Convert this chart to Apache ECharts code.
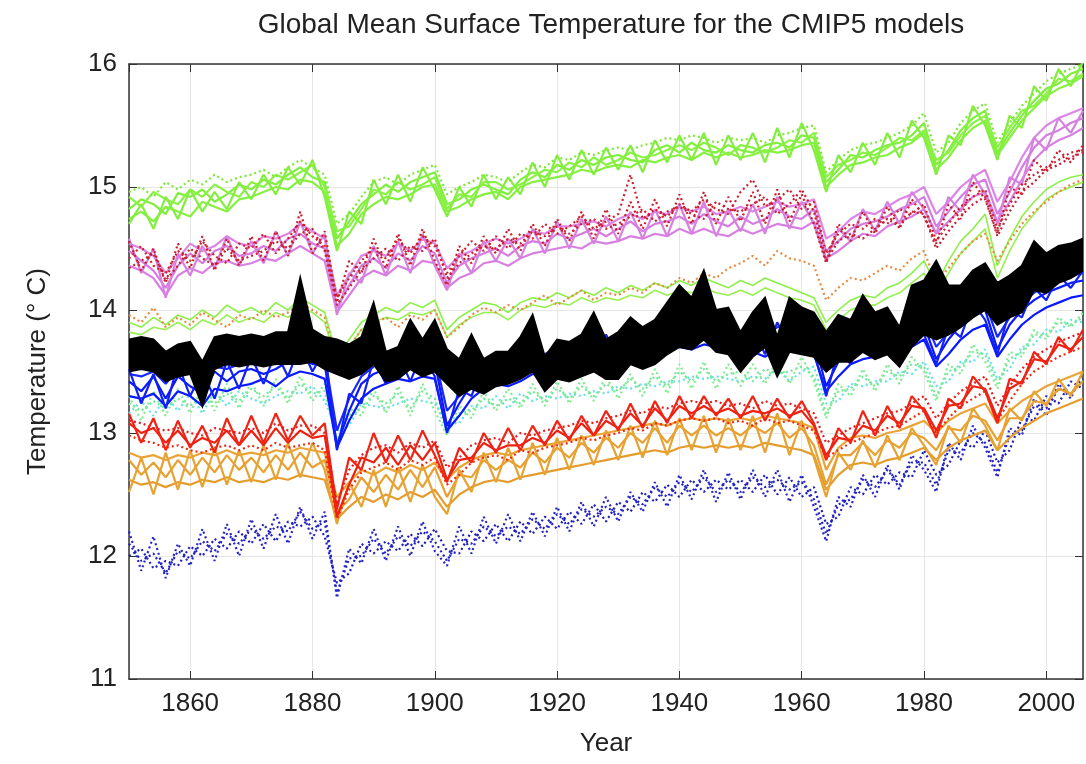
<!DOCTYPE html>
<html>
<head>
<meta charset="utf-8">
<title>CMIP5 global mean surface temperature</title>
<script src="https://cdn.jsdelivr.net/npm/echarts@6.0.0/dist/echarts.min.js"></script>
<style>
html,body{margin:0;padding:0;background:#fff;}
#chart{width:1086px;height:764px;}
</style>
</head>
<body>
<div id="chart"></div>
<script>
// years, every second year
var years = [
    1850,1852,1854,1856,1858,1860,1862,1864,1866,1868,
    1870,1872,1874,1876,1878,1880,1882,1884,1886,1888,
    1890,1892,1894,1896,1898,1900,1902,1904,1906,1908,
    1910,1912,1914,1916,1918,1920,1922,1924,1926,1928,
    1930,1932,1934,1936,1938,1940,1942,1944,1946,1948,
    1950,1952,1954,1956,1958,1960,1962,1964,1966,1968,
    1970,1972,1974,1976,1978,1980,1982,1984,1986,1988,
    1990,1992,1994,1996,1998,2000,2002,2004,2006
];
var yTicks = [11,12,13,14,15,16];

// warm light-green model (top)
var greenTop1 = [
    14.82,14.90,14.86,14.78,14.95,14.92,14.98,14.88,14.94,15.02,
    14.98,15.06,15.02,15.10,15.16,15.08,15.04,14.58,14.72,14.86,
    14.94,15.02,14.96,15.04,15.08,15.12,14.86,14.90,14.98,15.02,
    14.98,14.94,15.06,15.12,15.08,15.18,15.14,15.22,15.18,15.24,
    15.26,15.22,15.20,15.30,15.34,15.28,15.36,15.30,15.28,15.34,
    15.30,15.28,15.34,15.36,15.32,15.42,15.40,15.04,15.14,15.26,
    15.24,15.30,15.34,15.36,15.42,15.52,15.18,15.30,15.46,15.56,
    15.62,15.28,15.44,15.58,15.70,15.80,15.84,15.92,15.96
];
var greenTop2 = [
    14.92,14.84,14.96,14.90,14.86,14.98,14.92,15.02,14.96,14.92,
    15.04,15.00,15.10,15.06,15.12,15.18,15.00,14.64,14.68,14.82,
    14.98,14.94,15.04,14.98,15.02,15.08,14.82,14.94,14.92,15.04,
    15.04,14.98,15.02,15.08,15.14,15.12,15.20,15.16,15.24,15.18,
    15.22,15.28,15.24,15.26,15.30,15.34,15.30,15.36,15.32,15.26,
    15.34,15.32,15.28,15.32,15.38,15.36,15.44,15.08,15.18,15.22,
    15.28,15.26,15.32,15.40,15.38,15.46,15.22,15.28,15.42,15.52,
    15.58,15.32,15.48,15.62,15.66,15.76,15.88,15.86,15.92
];
var greenTop3 = [
    14.74,14.80,14.72,14.84,14.80,14.76,14.88,14.84,14.80,14.90,
    14.92,14.96,15.00,14.98,15.06,15.04,14.96,14.52,14.62,14.78,
    14.86,14.92,14.90,14.94,15.00,15.02,14.80,14.84,14.90,14.94,
    14.96,14.90,15.00,15.04,15.06,15.08,15.10,15.14,15.12,15.16,
    15.18,15.16,15.22,15.20,15.24,15.26,15.22,15.28,15.24,15.28,
    15.24,15.26,15.30,15.28,15.30,15.34,15.36,15.00,15.10,15.18,
    15.20,15.24,15.26,15.32,15.36,15.44,15.14,15.24,15.38,15.48,
    15.54,15.26,15.40,15.54,15.64,15.74,15.80,15.84,15.90
];
var greenTop4 = [
    14.96,15.00,14.92,15.04,14.98,15.06,15.02,15.10,15.04,15.08,
    15.10,15.14,15.08,15.16,15.22,15.16,15.10,14.70,14.78,14.92,
    15.04,15.08,15.02,15.10,15.14,15.18,14.94,15.00,15.04,15.10,
    15.08,15.04,15.12,15.18,15.16,15.24,15.22,15.28,15.26,15.30,
    15.32,15.30,15.34,15.36,15.40,15.38,15.42,15.40,15.36,15.40,
    15.38,15.40,15.36,15.42,15.44,15.48,15.50,15.12,15.22,15.30,
    15.34,15.36,15.40,15.44,15.50,15.60,15.28,15.36,15.52,15.62,
    15.68,15.36,15.52,15.66,15.76,15.86,15.92,15.96,16.00
];
var greenTop5 = [
    14.70,14.86,14.66,14.92,14.74,14.98,14.80,14.96,14.82,15.04,
    14.90,15.10,14.94,15.16,15.02,15.22,14.92,14.48,14.80,14.70,
    15.06,14.86,15.10,14.88,15.16,14.98,14.76,15.00,14.84,15.10,
    14.90,15.08,14.94,15.20,15.00,15.26,15.06,15.30,15.10,15.32,
    15.14,15.34,15.12,15.38,15.20,15.42,15.22,15.44,15.18,15.42,
    15.22,15.44,15.20,15.48,15.24,15.52,15.30,14.96,15.26,15.12,
    15.36,15.18,15.44,15.24,15.54,15.40,15.10,15.42,15.34,15.66,
    15.50,15.22,15.58,15.48,15.82,15.70,15.96,15.82,16.02
];

// orchid model
var orchid1 = [
    14.48,14.40,14.32,14.18,14.36,14.46,14.38,14.48,14.52,14.44,
    14.46,14.52,14.48,14.58,14.62,14.54,14.50,14.02,14.20,14.36,
    14.42,14.34,14.46,14.40,14.52,14.46,14.22,14.36,14.42,14.46,
    14.50,14.44,14.52,14.56,14.54,14.62,14.58,14.62,14.66,14.60,
    14.66,14.72,14.64,14.70,14.72,14.76,14.70,14.78,14.72,14.68,
    14.76,14.70,14.74,14.82,14.76,14.74,14.82,14.48,14.56,14.66,
    14.70,14.72,14.76,14.82,14.86,14.92,14.68,14.80,14.92,15.02,
    15.06,14.78,14.96,15.16,15.32,15.42,15.46,15.52,15.56
];
var orchid2 = [
    14.36,14.32,14.26,14.12,14.28,14.34,14.30,14.38,14.40,14.36,
    14.38,14.42,14.40,14.46,14.52,14.46,14.40,13.98,14.12,14.26,
    14.32,14.28,14.36,14.32,14.40,14.38,14.18,14.26,14.30,14.38,
    14.40,14.36,14.42,14.46,14.48,14.50,14.52,14.50,14.56,14.54,
    14.56,14.60,14.58,14.62,14.60,14.66,14.62,14.66,14.62,14.60,
    14.66,14.62,14.66,14.70,14.68,14.66,14.72,14.42,14.48,14.56,
    14.62,14.60,14.68,14.72,14.76,14.82,14.62,14.72,14.82,14.92,
    14.96,14.72,14.88,15.06,15.22,15.32,15.38,15.42,15.48
];
var orchid3 = [
    14.54,14.50,14.44,14.30,14.42,14.54,14.48,14.52,14.60,14.54,
    14.52,14.60,14.58,14.62,14.70,14.64,14.58,14.12,14.28,14.44,
    14.48,14.44,14.54,14.48,14.58,14.54,14.34,14.44,14.48,14.54,
    14.58,14.54,14.58,14.64,14.62,14.68,14.68,14.70,14.72,14.68,
    14.74,14.78,14.74,14.80,14.78,14.84,14.80,14.84,14.78,14.80,
    14.84,14.80,14.84,14.88,14.84,14.86,14.90,14.58,14.64,14.74,
    14.80,14.78,14.84,14.90,14.94,15.00,14.78,14.88,15.00,15.08,
    15.14,14.88,15.04,15.24,15.40,15.50,15.56,15.60,15.64
];
var orchid4 = [
    14.58,14.30,14.50,14.10,14.46,14.28,14.52,14.34,14.60,14.36,
    14.56,14.38,14.64,14.44,14.72,14.46,14.62,13.96,14.30,14.22,
    14.52,14.28,14.56,14.30,14.62,14.36,14.16,14.46,14.30,14.56,
    14.40,14.58,14.42,14.66,14.46,14.72,14.50,14.74,14.54,14.76,
    14.56,14.80,14.58,14.82,14.60,14.86,14.62,14.88,14.60,14.82,
    14.64,14.86,14.62,14.92,14.66,14.88,14.70,14.40,14.66,14.56,
    14.82,14.64,14.88,14.70,14.96,14.82,14.62,14.92,14.80,15.10,
    14.94,14.70,15.08,15.02,15.40,15.30,15.56,15.44,15.62
];

// dark red dotted model (upper)
var redUp1 = [
    14.42,14.52,14.36,14.30,14.48,14.40,14.56,14.44,14.38,14.54,
    14.50,14.62,14.46,14.58,14.72,14.60,14.52,14.10,14.26,14.40,
    14.50,14.42,14.58,14.46,14.60,14.52,14.30,14.44,14.56,14.48,
    14.60,14.50,14.62,14.58,14.70,14.62,14.68,14.76,14.66,14.72,
    14.78,15.10,14.74,14.82,14.76,14.86,14.80,14.90,14.82,14.78,
    14.96,15.06,14.84,14.90,14.98,14.82,14.88,14.46,14.62,14.70,
    14.66,14.74,14.70,14.82,14.78,14.86,14.56,14.70,14.84,14.92,
    14.98,14.66,14.86,15.02,15.10,15.16,15.22,15.28,15.30
];
var redUp2 = [
    14.34,14.40,14.46,14.24,14.36,14.50,14.42,14.36,14.50,14.40,
    14.44,14.48,14.56,14.50,14.62,14.66,14.48,14.04,14.18,14.32,
    14.42,14.50,14.40,14.52,14.48,14.58,14.26,14.38,14.46,14.52,
    14.50,14.58,14.54,14.64,14.60,14.68,14.62,14.70,14.74,14.66,
    14.70,14.76,14.82,14.72,14.80,14.84,14.78,14.74,14.88,14.82,
    14.80,14.86,14.92,14.78,14.86,14.98,14.80,14.40,14.56,14.62,
    14.58,14.66,14.74,14.68,14.80,14.78,14.50,14.64,14.76,14.86,
    14.92,14.60,14.80,14.96,15.04,15.14,15.18,15.24,15.28
];
var redUp3 = [
    14.56,14.32,14.50,14.22,14.54,14.34,14.60,14.32,14.58,14.36,
    14.60,14.40,14.64,14.44,14.80,14.46,14.64,14.06,14.40,14.30,
    14.58,14.34,14.62,14.36,14.66,14.40,14.20,14.52,14.38,14.60,
    14.46,14.66,14.48,14.70,14.52,14.74,14.56,14.80,14.58,14.82,
    14.62,14.88,14.66,14.90,14.68,14.94,14.70,14.96,14.70,14.92,
    14.72,14.96,14.70,14.98,14.72,14.94,14.70,14.38,14.70,14.56,
    14.80,14.62,14.84,14.66,14.90,14.76,14.54,14.86,14.74,15.04,
    14.90,14.62,15.00,14.94,15.22,15.12,15.30,15.20,15.34
];

// light-green model (middle, warming fast late)
var greenMid1 = [
    13.90,13.86,13.94,13.88,13.96,13.92,14.00,13.94,14.04,13.98,
    14.02,13.96,14.06,14.00,14.10,14.04,13.98,13.62,13.76,13.90,
    13.96,14.02,13.98,14.06,14.02,14.08,13.84,13.94,14.00,14.06,
    14.04,13.98,14.06,14.10,14.08,14.14,14.10,14.16,14.12,14.18,
    14.14,14.20,14.16,14.22,14.18,14.24,14.20,14.26,14.22,14.18,
    14.24,14.20,14.26,14.22,14.18,14.14,14.10,13.90,14.00,14.08,
    14.12,14.10,14.18,14.22,14.30,14.40,14.20,14.40,14.56,14.66,
    14.78,14.36,14.58,14.76,14.88,14.98,15.04,15.08,15.10
];
var greenMid2 = [
    13.82,13.80,13.86,13.84,13.90,13.84,13.92,13.88,13.96,13.90,
    13.94,13.90,13.98,13.94,14.02,13.98,13.90,13.56,13.70,13.84,
    13.90,13.94,13.92,13.98,13.96,14.00,13.78,13.88,13.94,13.98,
    13.98,13.92,14.00,14.04,14.02,14.06,14.04,14.10,14.06,14.10,
    14.08,14.12,14.10,14.16,14.12,14.16,14.14,14.18,14.14,14.12,
    14.16,14.12,14.18,14.14,14.10,14.08,14.04,13.84,13.92,14.00,
    14.04,14.04,14.10,14.14,14.22,14.30,14.12,14.30,14.46,14.56,
    14.66,14.26,14.48,14.66,14.78,14.90,14.96,15.00,15.04
];

// orange dotted model (upper)
var orangeUp = [
    13.96,13.90,14.02,13.86,13.94,13.88,13.98,13.92,13.86,13.96,
    13.92,14.00,13.94,13.98,14.06,14.00,13.94,13.58,13.70,13.84,
    13.88,13.94,13.86,13.96,13.92,14.00,13.78,13.86,13.96,14.02,
    13.98,14.04,14.00,14.06,14.12,14.04,14.10,14.16,14.08,14.14,
    14.12,14.18,14.14,14.22,14.18,14.26,14.22,14.30,14.26,14.34,
    14.38,14.44,14.36,14.48,14.42,14.40,14.36,14.08,14.18,14.26,
    14.24,14.30,14.36,14.32,14.42,14.48,14.22,14.34,14.46,14.56,
    14.62,14.40,14.56,14.70,14.80,14.88,14.96,15.02,15.06
];

// observations band (lower / upper edge)
var obsLow = [
    13.50,13.52,13.50,13.42,13.46,13.48,13.22,13.52,13.56,13.54,
    13.56,13.54,13.56,13.56,13.56,13.58,13.52,13.48,13.44,13.48,
    13.56,13.42,13.44,13.52,13.46,13.50,13.40,13.30,13.36,13.32,
    13.38,13.40,13.44,13.50,13.34,13.44,13.42,13.46,13.50,13.44,
    13.44,13.56,13.52,13.56,13.64,13.70,13.68,13.76,13.66,13.64,
    13.50,13.62,13.70,13.46,13.66,13.64,13.62,13.50,13.58,13.58,
    13.66,13.60,13.64,13.54,13.70,13.80,13.76,13.80,13.86,13.94,
    14.00,13.88,13.94,13.98,14.16,14.14,14.22,14.26,14.32
];
var obsHigh = [
    13.76,13.78,13.76,13.66,13.72,13.74,13.58,13.78,13.80,13.78,
    13.80,13.78,13.82,13.82,14.26,13.84,13.78,13.76,13.72,13.78,
    14.06,13.66,13.70,13.92,13.76,13.92,13.68,13.60,13.80,13.60,
    13.66,13.66,13.78,13.96,13.62,13.76,13.74,13.80,13.98,13.76,
    13.82,13.94,13.86,13.92,14.06,14.20,14.10,14.32,14.00,14.02,
    13.82,13.98,14.10,13.78,14.10,14.02,13.98,13.82,13.96,13.92,
    14.12,13.98,14.02,13.86,14.20,14.24,14.40,14.20,14.20,14.32,
    14.38,14.22,14.28,14.36,14.56,14.46,14.52,14.54,14.58
];

// blue model
var blue1 = [
    13.42,13.34,13.46,13.28,13.46,13.38,13.32,13.50,13.42,13.50,
    13.52,13.48,13.52,13.58,13.62,13.56,13.56,12.90,13.18,13.40,
    13.48,13.52,13.50,13.56,13.54,13.58,13.06,13.24,13.40,13.44,
    13.52,13.46,13.54,13.60,13.54,13.64,13.58,13.66,13.60,13.68,
    13.70,13.64,13.72,13.74,13.78,13.84,13.76,13.84,13.78,13.74,
    13.76,13.74,13.70,13.80,13.82,13.74,13.76,13.38,13.58,13.64,
    13.72,13.70,13.78,13.72,13.82,13.88,13.60,13.76,13.88,13.96,
    14.00,13.68,13.88,14.00,14.08,14.14,14.18,14.22,14.24
];
var blue2 = [
    13.30,13.28,13.32,13.22,13.34,13.30,13.22,13.36,13.34,13.38,
    13.40,13.44,13.38,13.46,13.50,13.48,13.44,12.88,13.10,13.28,
    13.36,13.40,13.44,13.42,13.46,13.44,13.02,13.14,13.28,13.36,
    13.40,13.38,13.42,13.48,13.46,13.52,13.50,13.54,13.52,13.56,
    13.58,13.56,13.60,13.62,13.66,13.70,13.68,13.72,13.70,13.66,
    13.64,13.66,13.62,13.68,13.70,13.66,13.64,13.34,13.46,13.56,
    13.60,13.62,13.66,13.64,13.70,13.76,13.54,13.64,13.76,13.84,
    13.88,13.62,13.76,13.88,13.96,14.02,14.06,14.10,14.12
];
var blue3 = [
    13.48,13.46,13.50,13.40,13.52,13.50,13.38,13.54,13.52,13.56,
    13.58,13.60,13.56,13.64,13.70,13.66,13.62,13.02,13.28,13.46,
    13.54,13.58,13.62,13.60,13.64,13.62,13.18,13.30,13.46,13.54,
    13.58,13.56,13.60,13.66,13.64,13.70,13.68,13.72,13.70,13.74,
    13.76,13.74,13.78,13.80,13.84,13.88,13.86,13.90,13.88,13.84,
    13.82,13.84,13.80,13.86,13.88,13.84,13.82,13.50,13.64,13.74,
    13.78,13.80,13.84,13.82,13.88,13.94,13.70,13.82,13.94,14.02,
    14.06,13.78,13.94,14.06,14.14,14.20,14.24,14.28,14.30
];
var blue4 = [
    13.52,13.24,13.48,13.20,13.56,13.30,13.50,13.28,13.58,13.36,
    13.62,13.40,13.66,13.46,13.72,13.50,13.68,12.86,13.32,13.24,
    13.60,13.40,13.64,13.42,13.66,13.46,13.00,13.36,13.30,13.56,
    13.42,13.62,13.46,13.70,13.48,13.74,13.52,13.76,13.56,13.80,
    13.60,13.82,13.64,13.86,13.68,13.92,13.70,13.94,13.70,13.88,
    13.66,13.88,13.64,13.90,13.70,13.88,13.66,13.30,13.68,13.56,
    13.82,13.62,13.86,13.68,13.92,13.80,13.56,13.86,13.78,14.06,
    13.92,13.64,14.00,13.94,14.18,14.08,14.28,14.18,14.32
];

// aquamarine and cyan dotted models
var aqua1 = [
    13.24,13.18,13.26,13.20,13.28,13.22,13.30,13.24,13.32,13.26,
    13.36,13.30,13.38,13.28,13.40,13.32,13.34,12.94,13.14,13.20,
    13.30,13.24,13.32,13.20,13.34,13.28,13.00,13.16,13.18,13.28,
    13.22,13.28,13.24,13.34,13.26,13.36,13.28,13.38,13.30,13.40,
    13.34,13.44,13.36,13.46,13.38,13.50,13.42,13.52,13.42,13.48,
    13.50,13.42,13.52,13.48,13.50,13.54,13.46,13.16,13.34,13.36,
    13.46,13.38,13.50,13.46,13.56,13.54,13.30,13.50,13.54,13.66,
    13.64,13.40,13.60,13.66,13.80,13.80,13.90,13.88,13.94
];
var aqua2 = [
    13.30,13.10,13.34,13.14,13.36,13.16,13.38,13.18,13.40,13.20,
    13.42,13.22,13.44,13.24,13.46,13.26,13.40,12.92,13.20,13.14,
    13.36,13.16,13.38,13.14,13.40,13.18,12.98,13.22,13.12,13.34,
    13.18,13.36,13.20,13.40,13.22,13.42,13.24,13.44,13.26,13.46,
    13.28,13.48,13.30,13.52,13.32,13.56,13.36,13.58,13.36,13.56,
    13.38,13.56,13.40,13.60,13.40,13.62,13.42,13.12,13.40,13.30,
    13.52,13.34,13.56,13.40,13.62,13.50,13.26,13.56,13.48,13.72,
    13.58,13.36,13.66,13.62,13.84,13.76,13.94,13.86,13.98
];
var cyan1 = [
    13.16,13.26,13.14,13.30,13.18,13.32,13.16,13.34,13.22,13.34,
    13.28,13.24,13.30,13.34,13.32,13.38,13.26,13.02,13.06,13.24,
    13.22,13.20,13.24,13.28,13.26,13.24,13.08,13.08,13.22,13.20,
    13.30,13.20,13.32,13.26,13.30,13.28,13.32,13.30,13.34,13.32,
    13.38,13.36,13.40,13.38,13.42,13.42,13.46,13.44,13.46,13.44,
    13.42,13.46,13.44,13.52,13.42,13.50,13.54,13.24,13.26,13.40,
    13.38,13.42,13.42,13.50,13.48,13.58,13.38,13.42,13.58,13.58,
    13.68,13.44,13.52,13.70,13.72,13.84,13.82,13.92,13.90
];

// bright red model
var red1 = [
    13.08,13.00,13.04,12.92,13.02,12.90,12.96,12.92,13.02,12.90,
    13.02,12.90,13.04,12.92,13.02,12.96,12.98,12.32,12.58,12.80,
    12.76,12.88,12.74,12.90,12.78,12.92,12.62,12.78,12.80,12.92,
    12.86,12.90,12.90,12.96,12.92,13.02,12.96,13.08,12.98,13.10,
    13.04,13.16,13.06,13.20,13.10,13.22,13.16,13.22,13.16,13.20,
    13.14,13.18,13.16,13.20,13.14,13.18,13.06,12.82,12.96,12.94,
    13.06,13.02,13.14,13.08,13.22,13.20,13.02,13.22,13.24,13.38,
    13.36,13.12,13.36,13.42,13.60,13.58,13.72,13.68,13.78
];
var red2 = [
    13.10,13.08,13.04,13.02,13.04,13.00,12.98,13.04,13.02,13.00,
    13.04,13.00,13.08,13.02,13.06,13.06,13.00,12.42,12.70,12.82,
    12.88,12.90,12.84,12.92,12.88,12.94,12.72,12.80,12.90,12.94,
    12.96,12.92,13.00,12.98,13.02,13.04,13.06,13.10,13.08,13.12,
    13.14,13.18,13.16,13.22,13.20,13.24,13.26,13.24,13.26,13.22,
    13.24,13.20,13.26,13.22,13.24,13.20,13.16,12.92,12.98,13.04,
    13.08,13.12,13.16,13.18,13.24,13.30,13.12,13.24,13.34,13.40,
    13.46,13.22,13.38,13.52,13.62,13.68,13.74,13.78,13.82
];
var red3 = [
    12.98,12.94,12.92,12.88,12.90,12.86,12.84,12.88,12.90,12.86,
    12.90,12.86,12.92,12.88,12.90,12.92,12.86,12.30,12.54,12.68,
    12.72,12.76,12.70,12.78,12.74,12.80,12.58,12.66,12.76,12.80,
    12.82,12.78,12.86,12.84,12.88,12.90,12.92,12.96,12.94,12.98,
    13.00,13.04,13.02,13.08,13.06,13.10,13.12,13.10,13.12,13.08,
    13.10,13.06,13.12,13.08,13.10,13.06,13.02,12.80,12.86,12.92,
    12.96,13.00,13.04,13.06,13.12,13.18,13.00,13.12,13.22,13.28,
    13.34,13.10,13.26,13.40,13.50,13.56,13.62,13.66,13.70
];
var red4 = [
    13.16,12.92,13.12,12.86,13.10,12.88,13.06,12.84,13.12,12.90,
    13.14,12.92,13.16,12.94,13.14,12.98,13.08,12.38,12.80,12.70,
    13.00,12.76,12.98,12.78,13.02,12.82,12.60,12.88,12.76,13.00,
    12.84,13.04,12.86,13.06,12.90,13.10,12.94,13.14,12.98,13.18,
    13.02,13.24,13.04,13.26,13.08,13.30,13.12,13.30,13.14,13.28,
    13.12,13.30,13.10,13.28,13.12,13.26,13.08,12.78,13.04,12.92,
    13.18,12.98,13.22,13.04,13.30,13.18,12.96,13.28,13.20,13.46,
    13.34,13.08,13.44,13.40,13.66,13.56,13.78,13.66,13.84
];

// orange model
var orange1 = [
    12.78,12.66,12.76,12.64,12.78,12.66,12.80,12.68,12.82,12.70,
    12.80,12.68,12.82,12.70,12.84,12.72,12.78,12.36,12.46,12.64,
    12.52,12.66,12.54,12.70,12.56,12.72,12.48,12.66,12.64,12.78,
    12.70,12.78,12.72,12.84,12.76,12.88,12.80,12.92,12.84,12.96,
    12.88,13.00,12.92,13.04,12.92,13.06,12.98,13.06,12.98,13.04,
    12.98,13.06,13.00,13.08,12.96,13.04,12.90,12.58,12.82,12.82,
    12.92,12.82,12.94,12.88,13.00,12.96,12.86,13.04,13.02,13.14,
    13.10,12.94,13.12,13.12,13.26,13.24,13.36,13.32,13.42
];
var orange2 = [
    12.84,12.80,12.82,12.78,12.82,12.80,12.84,12.82,12.86,12.82,
    12.84,12.82,12.86,12.84,12.88,12.86,12.84,12.48,12.60,12.70,
    12.66,12.72,12.68,12.74,12.70,12.76,12.62,12.72,12.78,12.82,
    12.84,12.82,12.86,12.88,12.90,12.92,12.94,12.96,12.98,13.00,
    13.02,13.04,13.06,13.08,13.06,13.10,13.12,13.10,13.12,13.10,
    13.12,13.10,13.14,13.12,13.10,13.08,13.04,12.70,12.88,12.96,
    12.98,12.96,13.00,13.02,13.06,13.10,13.00,13.10,13.16,13.20,
    13.24,13.08,13.18,13.26,13.32,13.38,13.42,13.46,13.50
];
var orange3 = [
    12.62,12.58,12.60,12.56,12.60,12.58,12.62,12.60,12.64,12.60,
    12.62,12.60,12.64,12.62,12.66,12.64,12.62,12.30,12.40,12.48,
    12.44,12.50,12.46,12.52,12.48,12.54,12.40,12.50,12.56,12.60,
    12.62,12.60,12.64,12.66,12.68,12.70,12.72,12.74,12.76,12.78,
    12.80,12.82,12.84,12.86,12.84,12.88,12.90,12.88,12.90,12.88,
    12.90,12.88,12.92,12.90,12.88,12.86,12.82,12.54,12.66,12.74,
    12.76,12.74,12.78,12.80,12.84,12.88,12.78,12.88,12.94,12.98,
    13.02,12.86,12.96,13.04,13.10,13.16,13.20,13.24,13.28
];
var orange4 = [
    12.52,12.80,12.50,12.84,12.54,12.86,12.56,12.88,12.58,12.86,
    12.60,12.90,12.62,12.92,12.64,12.92,12.70,12.26,12.60,12.40,
    12.70,12.40,12.72,12.44,12.74,12.48,12.34,12.70,12.52,12.84,
    12.60,12.88,12.62,12.92,12.66,12.96,12.70,12.98,12.74,13.02,
    12.78,13.06,12.80,13.10,12.82,13.12,12.86,13.14,12.84,13.12,
    12.86,13.14,12.84,13.16,12.82,13.10,12.80,12.48,12.84,12.70,
    12.94,12.72,12.98,12.78,13.04,12.90,12.74,13.06,12.92,13.20,
    13.06,12.86,13.20,13.10,13.34,13.22,13.44,13.30,13.50
];

// dark blue dotted model (coldest)
var navy1 = [
    12.10,11.96,12.02,11.86,12.04,11.98,12.12,12.04,12.18,12.10,
    12.22,12.14,12.24,12.20,12.36,12.22,12.28,11.70,11.98,12.00,
    12.14,12.02,12.16,12.08,12.20,12.12,11.96,12.14,12.10,12.24,
    12.16,12.24,12.18,12.30,12.22,12.34,12.26,12.38,12.32,12.40,
    12.34,12.48,12.42,12.56,12.48,12.60,12.52,12.64,12.52,12.62,
    12.52,12.64,12.56,12.62,12.54,12.60,12.46,12.18,12.42,12.46,
    12.62,12.56,12.70,12.58,12.76,12.76,12.58,12.86,12.84,13.00,
    12.92,12.68,12.98,13.02,13.22,13.20,13.36,13.32,13.44
];
var navy2 = [
    12.00,12.06,11.90,11.96,11.92,12.08,12.00,12.14,12.06,12.20,
    12.10,12.26,12.12,12.28,12.24,12.32,12.16,11.78,11.86,12.10,
    12.02,12.12,12.04,12.18,12.08,12.22,12.04,12.02,12.20,12.12,
    12.26,12.12,12.28,12.18,12.32,12.22,12.36,12.26,12.42,12.28,
    12.44,12.36,12.52,12.44,12.58,12.48,12.62,12.52,12.62,12.54,
    12.62,12.52,12.66,12.50,12.64,12.48,12.56,12.26,12.32,12.56,
    12.50,12.66,12.58,12.68,12.64,12.86,12.66,12.74,12.94,12.88,
    13.02,12.76,12.86,13.12,13.10,13.30,13.24,13.42,13.36
];
var navy3 = [
    12.20,11.88,12.16,11.82,12.10,11.92,12.22,11.96,12.26,12.00,
    12.30,12.06,12.34,12.10,12.40,12.14,12.36,11.66,12.06,11.94,
    12.22,11.96,12.24,12.00,12.28,12.04,11.92,12.24,12.02,12.32,
    12.10,12.34,12.12,12.36,12.16,12.40,12.20,12.44,12.24,12.48,
    12.28,12.52,12.36,12.60,12.40,12.66,12.46,12.70,12.44,12.68,
    12.46,12.70,12.48,12.70,12.44,12.66,12.40,12.12,12.48,12.40,
    12.66,12.48,12.74,12.54,12.82,12.70,12.52,12.92,12.78,13.06,
    12.88,12.64,13.04,12.98,13.28,13.14,13.40,13.28,13.50
];

var chart = echarts.init(document.getElementById('chart'));
var FONT = '"Liberation Sans", Arial, sans-serif';

function pts(vals){
    return years.map(function(y, i){ return [y, vals[i]]; });
}
function modelLine(vals, color, dotted, width){
    return {
        type: 'line',
        data: pts(vals),
        symbol: 'none',
        silent: true,
        animation: false,
        lineStyle: {
            color: color,
            width: width || 2.2,
            type: dotted ? [2, 3] : 'solid'
        }
    };
}

var series = [
    modelLine(navy1, '#2222c4', true),
    modelLine(navy2, '#1e1eb8', true),
    modelLine(navy3, '#2626c8', true),
    modelLine(orange1, '#e8a030'),
    modelLine(orange2, '#eaa436'),
    modelLine(orange3, '#e49c2c'),
    modelLine(orange4, '#e6a232'),
    modelLine(red3, '#f02a10', true),
    modelLine(red1, '#ee2010'),
    modelLine(red4, '#f02414'),
    modelLine(red2, '#e81c1c', true),
    modelLine(cyan1, '#66e2e2', true),
    modelLine(aqua1, '#74e69c', true),
    modelLine(aqua2, '#80ec90', true),
    modelLine(blue2, '#0a18ff'),
    modelLine(blue1, '#0a18ff'),
    modelLine(blue3, '#1a28ff'),
    modelLine(blue4, '#1020f6'),
    modelLine(greenMid2, '#96f050', false, 1.6),
    modelLine(greenMid1, '#8cf048', false, 1.6),
    modelLine(orangeUp, '#e88a40', true),
    modelLine(orchid2, '#d880e2'),
    modelLine(orchid1, '#d47ce0'),
    modelLine(orchid3, '#dc86e6'),
    modelLine(orchid4, '#d680e0'),
    modelLine(redUp2, '#c81e36', true),
    modelLine(redUp1, '#d02030', true),
    modelLine(redUp3, '#cc1c2c', true),
    modelLine(greenTop3, '#86f040'),
    modelLine(greenTop1, '#80ee3c'),
    modelLine(greenTop2, '#8af244'),
    modelLine(greenTop5, '#84ee40'),
    modelLine(greenTop4, '#7ce838', true),
    {
        // observational band drawn as one polygon: upper edge forward, lower edge back
        type: 'custom',
        data: [[years[0], obsLow[0]]],
        clip: true,
        silent: true,
        animation: false,
        z: 5,
        renderItem: function(params, api){
            var poly = [];
            for(var i = 0; i < years.length; i++){
                poly.push(api.coord([years[i], obsHigh[i]]));
            }
            for(var j = years.length - 1; j >= 0; j--){
                poly.push(api.coord([years[j], obsLow[j]]));
            }
            return {
                type: 'polygon',
                shape: {points: poly},
                style: {fill: '#000', stroke: '#000', lineWidth: 2, lineJoin: 'miter'}
            };
        }
    }
];

var option = {
    backgroundColor: '#fff',
    animation: false,
    title: {
        text: 'Global Mean Surface Temperature for the CMIP5 models',
        left: 606,
        top: 6,
        textAlign: 'center',
        textStyle: {fontFamily: FONT, fontSize: 28, fontWeight: 'normal', color: '#222'}
    },
    grid: {left: 129, right: 3, top: 64, bottom: 85},
    xAxis: [
        {
            type: 'value', min: 1850, max: 2006, splitNumber: 8, minInterval: 20, maxInterval: 20,
            name: 'Year', nameLocation: 'middle', nameGap: 52,
            nameTextStyle: {fontFamily: FONT, fontSize: 26, color: '#222'},
            axisLine: {lineStyle: {color: '#333', width: 1.5}},
            axisTick: {inside: true, length: 8, lineStyle: {color: '#333'}},
            axisLabel: {
                fontFamily: FONT, fontSize: 26, color: '#222', margin: 12,
                showMinLabel: false, showMaxLabel: false,
                formatter: function(v){ return String(v); }
            },
            splitLine: {show: true, lineStyle: {color: '#e6e6e6', width: 1}}
        },
        {
            type: 'value', position: 'top', min: 1850, max: 2006, splitNumber: 8, minInterval: 20, maxInterval: 20,
            axisLine: {lineStyle: {color: '#333', width: 1.5}},
            axisTick: {inside: true, length: 8, lineStyle: {color: '#333'}},
            axisLabel: {show: false},
            splitLine: {show: false}
        }
    ],
    yAxis: [
        {
            type: 'value', min: yTicks[0], max: yTicks[yTicks.length - 1], interval: 1,
            name: 'Temperature (° C)', nameLocation: 'middle', nameGap: 78,
            nameTextStyle: {fontFamily: FONT, fontSize: 26, color: '#222'},
            axisLine: {show: true, lineStyle: {color: '#333', width: 1.5}},
            axisTick: {show: true, inside: true, length: 8, lineStyle: {color: '#333'}},
            axisLabel: {fontFamily: FONT, fontSize: 26, color: '#222', margin: 12},
            splitLine: {show: true, lineStyle: {color: '#e6e6e6', width: 1}}
        },
        {
            type: 'value', position: 'right', min: yTicks[0], max: yTicks[yTicks.length - 1], interval: 1,
            axisLine: {show: true, lineStyle: {color: '#333', width: 1.5}},
            axisTick: {show: true, inside: true, length: 8, lineStyle: {color: '#333'}},
            axisLabel: {show: false},
            splitLine: {show: false}
        }
    ],
    series: series
};

chart.setOption(option);
</script>
</body>
</html>
